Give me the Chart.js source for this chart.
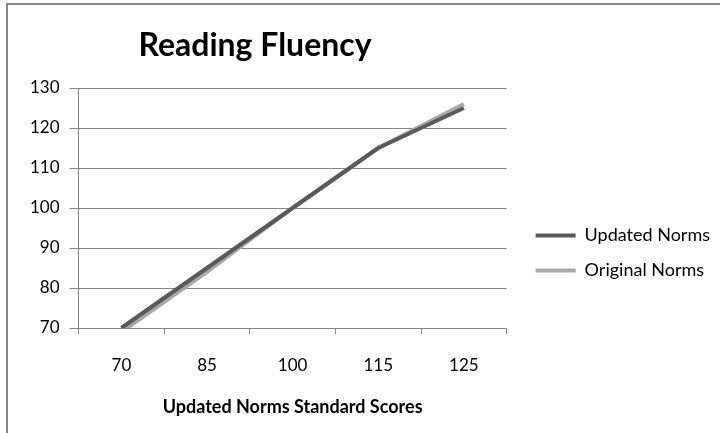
<!DOCTYPE html>
<html>
<head>
<meta charset="utf-8">
<script src="https://cdn.jsdelivr.net/npm/chart.js@4.4.1/dist/chart.umd.min.js"></script>
<style>
  html, body { margin: 0; padding: 0; background: #ffffff; overflow: hidden; }
  #wrap { position: relative; width: 720px; height: 433px; }
  #frame { position: absolute; left: 6px; top: 3px; width: 800px; height: 600px;
           border-top: 2px solid #868686; border-left: 2px solid #868686; }
  #box { position: absolute; left: 0; top: 0; width: 720px; height: 433px; }
</style>
</head>
<body>
<div id="wrap">
  <div id="frame"></div>
  <div id="box"><canvas id="c"></canvas></div>
</div>
<script>
// ---- data ----
const chartTitle = 'Reading Fluency';
const xAxisTitle = 'Updated Norms Standard Scores';
const categories = ['70', '85', '100', '115', '125'];
const updatedNorms = [70, 85, 100, 115, 125];
const originalNorms = [69, 84, 100, 115, 126];
const seriesNames = ['Updated Norms', 'Original Norms'];
const yTicks = [70, 80, 90, 100, 110, 120, 130];

const FONT = 'Lato, "Open Sans", "Liberation Sans", sans-serif';
const AXIS_GRAY = '#868686';

const titlePlugin = {
  id: 'freeTitle',
  afterDraw(chart) {
    const ctx = chart.ctx;
    ctx.save();
    ctx.font = 'bold 32px ' + FONT;
    ctx.fillStyle = '#000000';
    ctx.textAlign = 'center';
    ctx.textBaseline = 'alphabetic';
    ctx.fillText(chartTitle, 255, 56);
    ctx.restore();
  }
};

const legendShift = {
  id: 'legendShift',
  afterLayout(chart) {
    if (chart.legend) {
      chart.legend.left += 12;
      chart.legend.right += 12;
    }
  }
};

function build() {
  new Chart(document.getElementById('c'), {
    type: 'line',
    data: {
      labels: categories,
      datasets: [
        { label: seriesNames[0], data: updatedNorms, borderColor: '#5a5a5a', backgroundColor: '#5a5a5a',
          borderWidth: 4, pointRadius: 0, tension: 0 },
        { label: seriesNames[1], data: originalNorms, borderColor: '#a8a8a8', backgroundColor: '#a8a8a8',
          borderWidth: 4, pointRadius: 0, tension: 0 }
      ]
    },
    options: {
      responsive: true,
      maintainAspectRatio: false,
      animation: false,
      layout: { padding: { left: 20, right: 12, top: 88, bottom: 15 } },
      plugins: {
        title: { display: false },
        tooltip: { enabled: false },
        legend: {
          position: 'right',
          maxWidth: 320,
          labels: {
            usePointStyle: true,
            pointStyle: 'line',
            pointStyleWidth: 40,
            padding: 17,
            color: '#000000',
            font: { family: FONT, size: 18 }
          }
        }
      },
      scales: {
        x: {
          offset: true,
          grid: { display: true, drawOnChartArea: false, drawTicks: true, tickLength: 6,
                  color: AXIS_GRAY, offset: true },
          border: { color: AXIS_GRAY, width: 1 },
          ticks: { color: '#000000', padding: 21, maxRotation: 0, font: { family: FONT, size: 17 } },
          title: { display: true, text: xAxisTitle, color: '#000000',
                   font: { family: FONT, size: 18, weight: 'bold' }, padding: { top: 0, bottom: 0 } }
        },
        y: {
          min: yTicks[0],
          max: yTicks[yTicks.length - 1],
          afterBuildTicks(scale) { scale.ticks = yTicks.map(v => ({ value: v })); },
          grid: { color: AXIS_GRAY, lineWidth: 1, tickLength: 9, drawTicks: true },
          border: { color: AXIS_GRAY, width: 1 },
          ticks: { color: '#000000', padding: 10, font: { family: FONT, size: 17 } }
        }
      }
    },
    plugins: [titlePlugin, legendShift]
  });
}

let built = false;
function go() { if (!built) { built = true; build(); } }
Promise.all([
  document.fonts.load('17px Lato'),
  document.fonts.load('18px Lato'),
  document.fonts.load('bold 18px Lato'),
  document.fonts.load('bold 32px Lato')
]).then(go, go);
setTimeout(go, 1500);
</script>
</body>
</html>
